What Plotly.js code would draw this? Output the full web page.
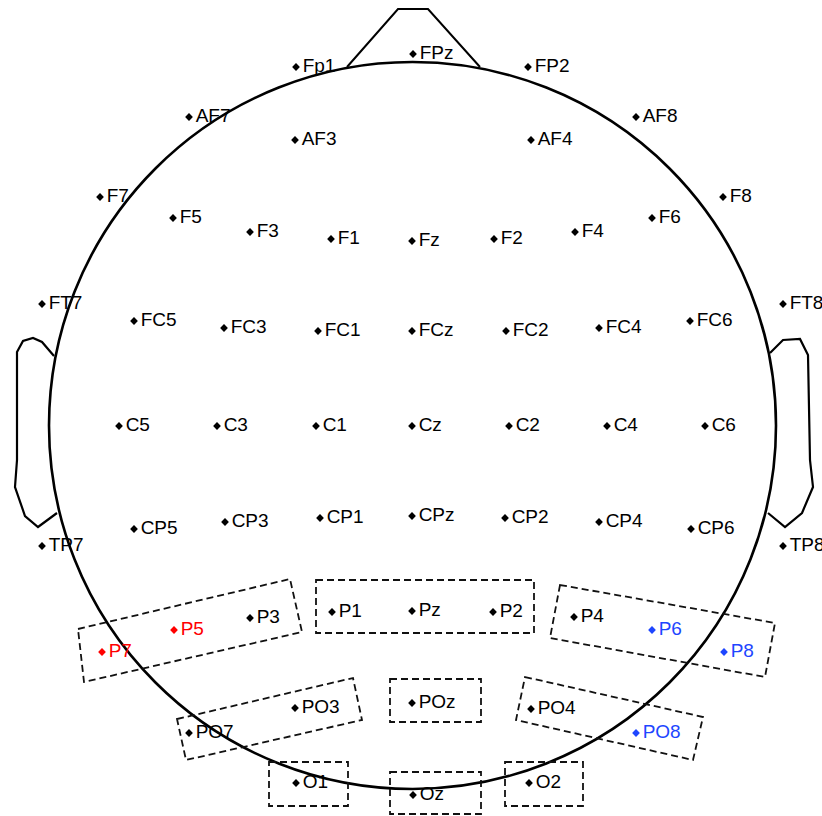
<!DOCTYPE html>
<html>
<head>
<meta charset="utf-8">
<script src="https://cdn.plot.ly/plotly-3.0.1.min.js"></script>
<style>html,body{margin:0;padding:0;background:#fff;}#chart{width:822px;height:816px;}</style>
</head>
<body>
<div id="chart"></div>
<script>
// Electrode names and their positions on the scalp map (map units)
const names = ['Fp1','FPz','FP2','AF7','AF3','AF4','AF8',
  'F7','F5','F3','F1','Fz','F2','F4','F6','F8',
  'FT7','FC5','FC3','FC1','FCz','FC2','FC4','FC6','FT8',
  'C5','C3','C1','Cz','C2','C4','C6',
  'TP7','CP5','CP3','CP1','CPz','CP2','CP4','CP6','TP8',
  'P7','P5','P3','P1','Pz','P2','P4','P6','P8',
  'PO7','PO3','POz','PO4','PO8','O1','Oz','O2'];
const xVals = [296,413,528,189,295,531,636,
  100,173,250,331,412,494,575,652,723,
  42,134,224,318,412,506,599,690,783,
  119,217,316,412,509,607,705,
  42,134,225,320,412,505,599,691,783,
  102,174,250,332,412,493,574,652,724,
  189,295,412,531,636,296,413,529];
const yVals = [67,54,67,117,140,140,117,
  197,218,232,239,241,239,232,218,197,
  304,321,328,331,331,331,328,321,304,
  426,426,426,426,426,426,426,
  546,529,522,518,516,518,522,529,546,
  652,630,618,612,611,612,617,630,652,
  733,708,703,709,733,783,795,783];
const redSites = ['P7','P5'];
const blueSites = ['P6','P8','PO8'];

// Dashed region boxes (corner lists)
const boxLeftP  = [[78,629],[290,579],[302,632],[84,682]];
const boxMidP   = [[316,580],[534,580],[534,633],[316,633]];
const boxRightP = [[560,585],[775,623],[765,677],[550,638]];
const boxLeftPO = [[177,719],[353,678],[362,720],[186,760]];
const boxPOz    = [[390,679],[481,679],[481,722],[390,722]];
const boxRightPO= [[525,677],[703,717],[693,760],[516,720]];
const boxO1     = [[269,762],[348,762],[348,806],[269,806]];
const boxOz     = [[390,772],[481,772],[481,814],[390,814]];
const boxO2     = [[505,762],[583,762],[583,806],[505,806]];
const boxes = [boxLeftP,boxMidP,boxRightP,boxLeftPO,boxPOz,boxRightPO,boxO1,boxOz,boxO2];

// Head outline
const headBox = [49,62,776,789];
const nose = [[347,67],[398,9],[428,9],[480,67]];
const earLeft = [[54,356],[42,342],[33,338],[23,341],[17,352],[17,460],[15,487],[25,516],[38,527],[57,513]];
const earRight = [[770,353],[783,340],[800,339],[808,355],[810,460],[813,487],[802,513],[785,527],[768,513]];

const colors = names.map(n => redSites.includes(n) ? '#ff0000' : (blueSites.includes(n) ? '#1e46ff' : '#000000'));

function pathOf(pts, close){
  return pts.map((p,i)=>(i?'L':'M')+p[0]+','+p[1]).join(' ') + (close?' Z':'');
}

const shapes = [];
shapes.push({type:'circle', xref:'x', yref:'y', x0:headBox[0], y0:headBox[1], x1:headBox[2], y1:headBox[3], line:{color:'#000', width:2.6}, layer:'below'});
shapes.push({type:'path', path:pathOf(nose,false), line:{color:'#000', width:2}, layer:'below'});
shapes.push({type:'path', path:pathOf(earLeft,false), line:{color:'#000', width:2.2}, layer:'below'});
shapes.push({type:'path', path:pathOf(earRight,false), line:{color:'#000', width:2.2}, layer:'below'});
boxes.forEach(b => shapes.push({type:'path', path:pathOf(b,true), line:{color:'#111', width:1.8, dash:'7px,4px'}, layer:'below'}));

const textTrace = {
  type:'scatter', mode:'markers+text', x:xVals, y:yVals, text:names,
  textposition:'middle right',
  textfont:{family:'Liberation Sans, Arial, sans-serif', size:19, color:colors},
  marker:{size:9, color:'rgba(0,0,0,0)'},
  hoverinfo:'skip', showlegend:false, cliponaxis:false
};
const markerTrace = {
  type:'scatter', mode:'markers', x:xVals, y:yVals,
  marker:{symbol:'diamond', size:6, color:colors},
  hoverinfo:'text', text:names, showlegend:false, cliponaxis:false
};

const layout = {
  width:822, height:816,
  margin:{l:0,r:0,t:0,b:0},
  paper_bgcolor:'#fff', plot_bgcolor:'#fff',
  xaxis:{range:[0,822], visible:false, fixedrange:true},
  yaxis:{range:[816,0], visible:false, fixedrange:true},
  shapes:shapes,
  showlegend:false
};
Plotly.newPlot('chart', [markerTrace, textTrace], layout, {displayModeBar:false, staticPlot:true});
</script>
</body>
</html>
